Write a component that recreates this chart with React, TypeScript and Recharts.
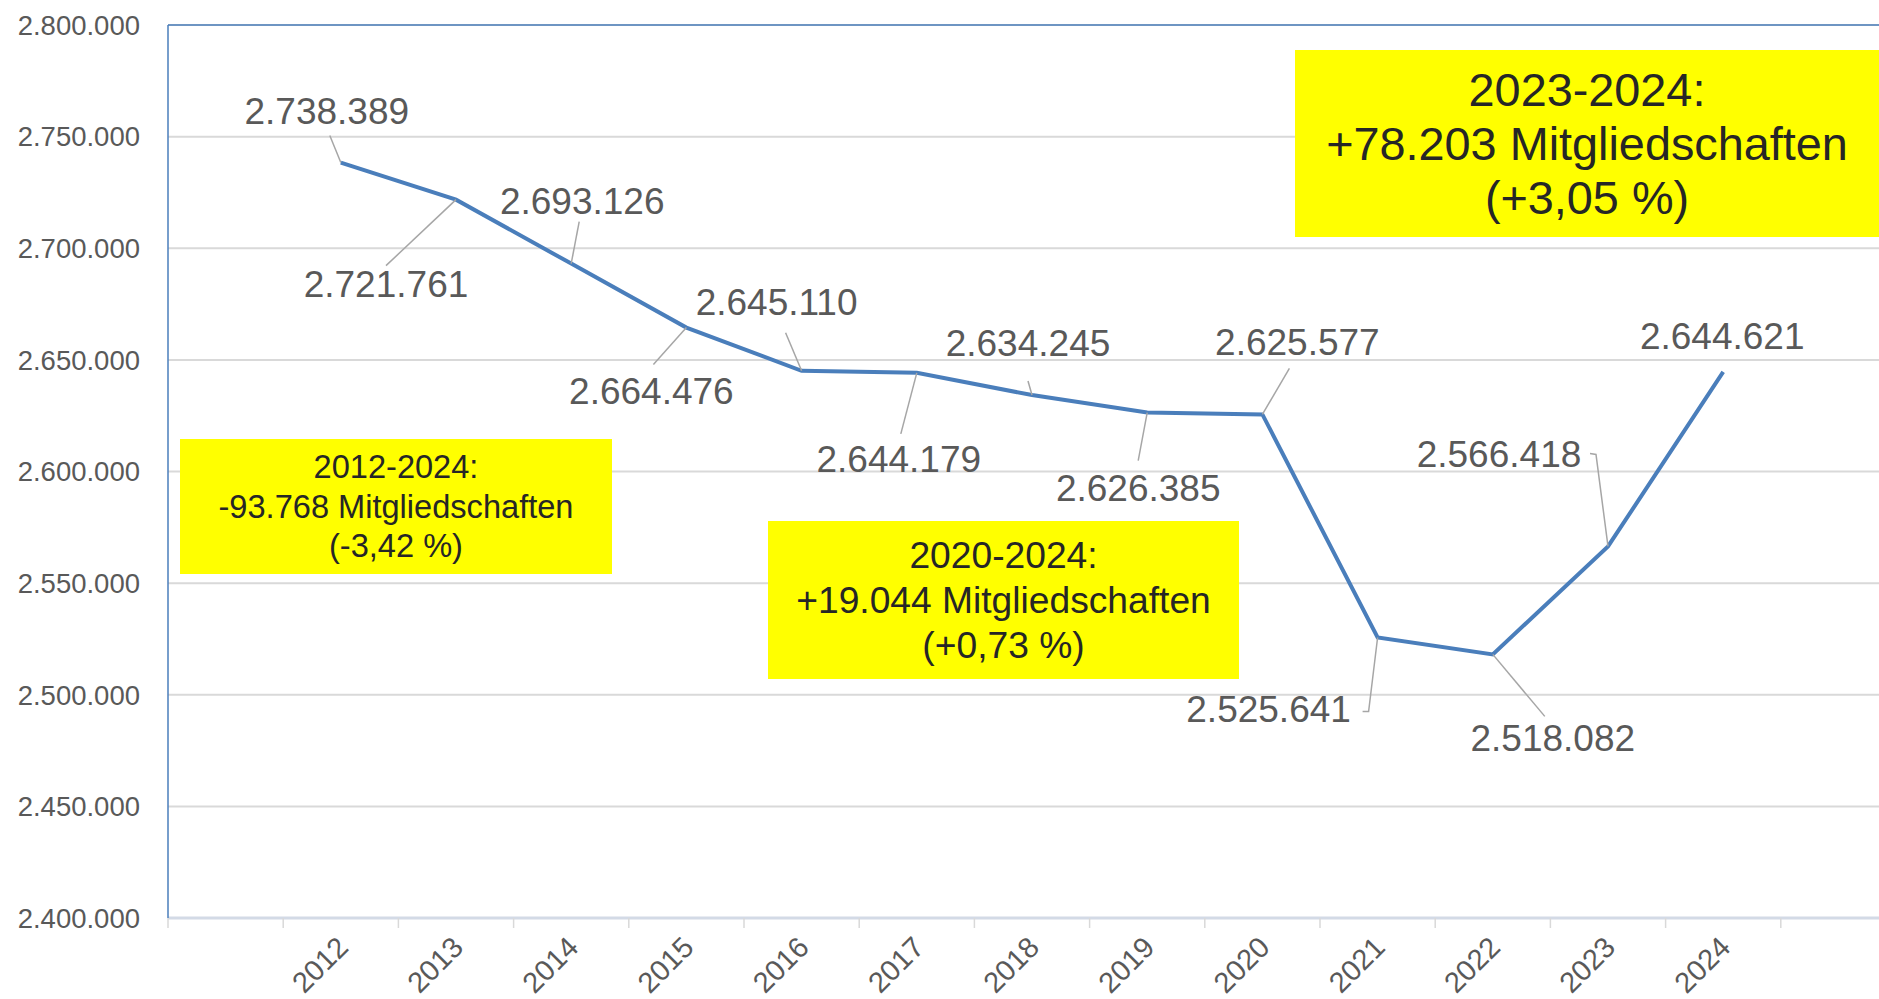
import { LineChart, Line, XAxis, YAxis, CartesianGrid, ReferenceLine } from "recharts";

const years = ["2012", "2013", "2014", "2015", "2016", "2017", "2018", "2019", "2020", "2021", "2022", "2023", "2024"];
const members = [2738389, 2721761, 2693126, 2664476, 2645110, 2644179, 2634245, 2626385, 2625577, 2525641, 2518082, 2566418, 2644621];
const yTicks = [2400000, 2450000, 2500000, 2550000, 2600000, 2650000, 2700000, 2750000, 2800000];
// the sheet has an empty slot before 2012 and after 2024
const slots = ["", ...years, ""];

const FONT = "Arial, 'Liberation Sans', sans-serif";
const CHART_W = 1896;
const CHART_H = 999;
const Y_AXIS_W = 168;
const BAND = (CHART_W - Y_AXIS_W) / slots.length;

const data = members.map((value, i) => ({ x: i + 1.5, year: years[i], value }));
const xTicks = slots.map((_, i) => i);

// label offsets (px) from the point, leader points relative to the point
const labelPos: { dx: number; dy: number; leader?: [number, number][] }[] = [
  { dx: -14, dy: -52, leader: [[-11, -27]] },
  { dx: -70, dy: 84, leader: [[-70, 66]] },
  { dx: 11, dy: -63, leader: [[8, -42]] },
  { dx: -35, dy: 63, leader: [[-33, 37]] },
  { dx: -25, dy: -69, leader: [[-16, -38]] },
  { dx: -18, dy: 86, leader: [[-16, 61]] },
  { dx: -4, dy: -52, leader: [[-4, -14]] },
  { dx: -9, dy: 75, leader: [[-9, 48]] },
  { dx: 35, dy: -72, leader: [[27, -46]] },
  { dx: -109, dy: 71, leader: [[-9, 74], [-15, 74]] },
  { dx: 60, dy: 84, leader: [[52, 62]] },
  { dx: -109, dy: -92, leader: [[-12, -92], [-18, -93]] },
  { dx: -1, dy: -36 },
];

const fmt = (v: number) => String(v).replace(/\B(?=(\d{3})+(?!\d))/g, ".");

const renderLabel = (props: any) => {
  const { x, y, index, value } = props;
  const p = labelPos[index];
  if (!p) return null;
  const pts = [[x, y], ...(p.leader ?? []).map(([lx, ly]) => [x + lx, y + ly])];
  return (
    <g key={`lbl-${index}`}>
      {p.leader && (
        <polyline
          points={pts.map((q) => q.join(",")).join(" ")}
          fill="none"
          stroke="#a6a6a6"
          strokeWidth={1.5}
        />
      )}
      <text
        x={x + p.dx}
        y={y + p.dy + 13}
        textAnchor="middle"
        fill="#595959"
        fontSize={37}
        fontFamily={FONT}
      >
        {fmt(value)}
      </text>
    </g>
  );
};

const XTick = (props: any) => {
  const { x, y, payload } = props;
  const label = slots[payload.value];
  if (!label) return null;
  const ax = x + BAND / 2 + 9;
  const ay = y + 21;
  return (
    <text
      x={ax}
      y={ay}
      textAnchor="end"
      fill="#595959"
      fontSize={29}
      fontFamily={FONT}
      transform={`rotate(-45, ${ax}, ${ay})`}
    >
      {label}
    </text>
  );
};

const boxStyle = (left: number, top: number, width: number, height: number, size: number, lh: number) => ({
  position: "absolute" as const,
  left,
  top,
  width,
  height,
  background: "#ffff00",
  color: "#262626",
  fontFamily: FONT,
  fontSize: size,
  lineHeight: `${lh}px`,
  display: "flex",
  flexDirection: "column" as const,
  alignItems: "center",
  justifyContent: "center",
  textAlign: "center" as const,
});

export default function App() {
  return (
    <div
      style={{
        position: "absolute",
        left: 0,
        top: 0,
        width: 1879,
        height: 999,
        overflow: "hidden",
        background: "#fff",
      }}
    >
      <LineChart
        width={CHART_W}
        height={CHART_H}
        data={data}
        margin={{ top: 25, right: 0, bottom: 0, left: 0 }}
      >
        <CartesianGrid vertical={false} stroke="#d9d9d9" strokeWidth={2} />
        <XAxis
          type="number"
          dataKey="x"
          domain={[0, slots.length]}
          ticks={xTicks}
          interval={0}
          height={81}
          tickSize={10}
          tickMargin={0}
          tick={<XTick />}
          tickLine={{ stroke: "#d9d9d9", strokeWidth: 1.5 }}
          axisLine={{ stroke: "#d3dae6", strokeWidth: 3 }}
        />
        <YAxis
          type="number"
          domain={[2400000, 2800000]}
          ticks={yTicks}
          width={Y_AXIS_W}
          tickSize={0}
          tickMargin={28}
          tickFormatter={fmt}
          tick={{ fill: "#595959", fontSize: 27.5, fontFamily: FONT }}
          axisLine={{ stroke: "#4a7ebb", strokeWidth: 1.5 }}
          tickLine={false}
        />
        <ReferenceLine y={2800000} stroke="#4a7ebb" strokeWidth={1.5} />
        <Line
          type="linear"
          dataKey="value"
          stroke="#4a7ebb"
          strokeWidth={4}
          dot={false}
          label={renderLabel}
          isAnimationActive={false}
        />
      </LineChart>

      <div style={boxStyle(180, 439, 432, 135, 32.6, 39.5)}>
        <div>2012-2024:</div>
        <div>-93.768 Mitgliedschaften</div>
        <div>(-3,42 %)</div>
      </div>
      <div style={boxStyle(768, 521, 471, 158, 37.2, 45)}>
        <div>2020-2024:</div>
        <div>+19.044 Mitgliedschaften</div>
        <div>(+0,73 %)</div>
      </div>
      <div style={boxStyle(1295, 50, 584, 187, 46.8, 54)}>
        <div>2023-2024:</div>
        <div>+78.203 Mitgliedschaften</div>
        <div>(+3,05 %)</div>
      </div>
    </div>
  );
}
